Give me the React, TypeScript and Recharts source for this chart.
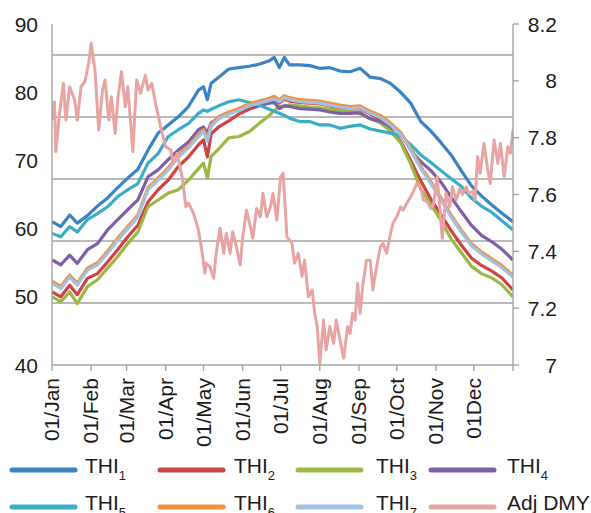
import React from 'react';
import { ComposedChart, Line, XAxis, YAxis, CartesianGrid } from 'recharts';

// ---- Data ----
const monthTicks = [0, 31, 59, 90, 120, 151, 181, 212, 243, 273, 304, 334, 365];
const monthLabels = ['01/Jan', '01/Feb', '01/Mar', '01/Apr', '01/May', '01/Jun', '01/Jul', '01/Aug', '01/Sep', '01/Oct', '01/Nov', '01Dec', ''];

const leftTicks = [40, 50, 60, 70, 80, 90];
const rightTicks = [7, 7.2, 7.4, 7.6, 7.8, 8, 8.2];
// horizontal gridlines: Excel draws 5 evenly spaced lines (in units of 1/5.5 of the plot height)
const gridTicks = [1, 2, 3, 4, 5];
const gridSpan = 5.5;

const thiDays = [0, 7, 14, 20, 28, 36, 44, 52, 60, 68, 76, 84, 92, 100, 108, 116, 120, 123, 126, 132, 140, 148, 156, 164, 172, 176, 180, 184, 188, 196, 204, 212, 220, 228, 236, 244, 252, 260, 268, 276, 284, 292, 300, 308, 316, 324, 332, 340, 348, 356, 365];

const thi1 = [61.0, 60.3, 62.0, 60.8, 61.9, 63.3, 64.5, 66.0, 67.4, 68.7, 71.5, 74.0, 75.2, 76.4, 77.9, 80.3, 80.8, 78.9, 81.3, 82.2, 83.4, 83.6, 83.8, 84.1, 84.6, 85.1, 83.6, 85.1, 84.0, 84.0, 83.9, 83.5, 83.6, 83.1, 83.0, 83.5, 82.2, 82.0, 81.3, 80.0, 78.4, 75.7, 74.3, 72.6, 70.8, 68.5, 66.3, 64.8, 63.5, 62.3, 61.0];
const thi2 = [50.7, 50.0, 51.7, 50.3, 52.7, 53.4, 55.1, 56.9, 58.8, 60.5, 63.9, 65.7, 67.1, 69.1, 70.5, 72.3, 73.0, 70.5, 73.9, 74.9, 75.8, 76.8, 77.5, 78.0, 78.5, 78.8, 78.4, 79.0, 78.7, 78.5, 78.4, 78.3, 78.0, 77.7, 77.5, 77.6, 76.8, 76.0, 74.5, 72.8, 70.0, 67.0, 64.3, 62.0, 59.7, 57.6, 55.7, 54.6, 53.8, 52.8, 51.0];
const thi3 = [50.0, 49.3, 50.7, 49.0, 51.5, 52.5, 54.2, 55.9, 57.8, 59.5, 63.2, 64.2, 65.2, 65.7, 67.1, 68.8, 69.6, 67.4, 70.6, 71.7, 73.3, 73.5, 74.2, 75.4, 76.6, 77.3, 77.9, 78.0, 78.1, 78.0, 77.8, 77.7, 77.5, 77.3, 77.2, 76.8, 76.1, 75.5, 74.3, 72.6, 69.5, 65.8, 63.5, 61.2, 58.5, 56.5, 54.5, 53.4, 52.8, 51.8, 50.0];
const thi4 = [55.4, 54.7, 56.1, 54.9, 56.9, 57.8, 59.8, 61.3, 62.8, 64.2, 67.6, 68.6, 70.1, 71.5, 72.7, 74.5, 74.9, 74.0, 75.5, 76.3, 77.0, 77.4, 77.9, 78.1, 78.4, 78.5, 77.6, 78.0, 77.9, 77.6, 77.5, 77.4, 77.1, 76.9, 76.9, 77.0, 76.1, 75.7, 75.0, 74.0, 71.5, 69.8, 68.5, 66.8, 64.6, 62.5, 60.5, 59.0, 58.1, 57.0, 55.4];
const thi5 = [59.3, 58.8, 60.3, 59.5, 61.3, 62.2, 63.2, 64.7, 65.7, 66.6, 69.6, 71.0, 73.5, 74.5, 75.4, 76.9, 77.4, 77.2, 77.5, 78.0, 78.6, 78.9, 78.5, 78.1, 77.5, 77.2, 76.9, 76.6, 76.2, 75.7, 75.7, 75.2, 75.2, 74.7, 75.0, 75.2, 74.6, 74.3, 74.0, 73.6, 72.3, 70.8, 69.7, 68.5, 67.3, 66.2, 64.5, 63.3, 62.4, 61.2, 59.8];
const thi6 = [52.3, 51.5, 53.2, 52.0, 54.2, 55.0, 56.7, 58.6, 60.3, 62.0, 66.0, 67.4, 68.9, 70.8, 72.1, 73.8, 74.5, 73.2, 75.3, 76.4, 77.1, 77.6, 78.3, 78.7, 79.1, 79.4, 78.9, 79.5, 79.2, 78.9, 78.8, 78.7, 78.4, 78.1, 77.9, 78.0, 77.2, 76.6, 75.5, 74.1, 71.8, 69.1, 66.9, 64.5, 62.0, 59.8, 57.8, 56.6, 55.6, 54.6, 53.2];
const thi7 = [52.0, 51.2, 52.9, 51.7, 53.9, 54.7, 56.4, 58.3, 60.0, 61.7, 65.7, 67.1, 68.6, 70.5, 71.8, 73.5, 74.2, 72.8, 75.0, 76.1, 76.8, 77.3, 78.0, 78.4, 78.8, 79.0, 78.6, 79.2, 78.9, 78.6, 78.5, 78.4, 78.1, 77.8, 77.6, 77.7, 76.9, 76.3, 75.2, 73.8, 71.5, 68.8, 66.6, 64.2, 61.7, 59.5, 57.5, 56.3, 55.3, 54.3, 52.9];

const dmyDays = [0, 2, 3, 6, 9, 11, 14, 18, 20, 23, 26, 29, 31, 34, 37, 40, 42, 45, 47, 50, 52, 55, 58, 60, 64, 67, 70, 74, 76, 79, 82, 86, 90, 94, 96, 99, 103, 106, 108, 112, 116, 119, 121, 122, 125, 128, 130, 133, 136, 138, 141, 143, 146, 149, 151, 154, 157, 159, 162, 165, 167, 170, 173, 175, 178, 181, 183, 186, 190, 192, 195, 198, 200, 203, 206, 208, 210, 212, 215, 217, 220, 223, 225, 228, 231, 234, 236, 238, 240, 242, 244, 246, 249, 252, 254, 257, 260, 262, 265, 268, 270, 273, 276, 278, 281, 284, 286, 289, 292, 294, 297, 300, 302, 305, 307, 309, 312, 315, 317, 320, 323, 325, 328, 330, 333, 335, 337, 339, 342, 345, 347, 350, 353, 355, 358, 361, 363, 365];
const dmyValues = [7.862, 7.926, 7.751, 7.886, 7.991, 7.862, 7.979, 7.932, 7.862, 7.979, 7.997, 8.062, 8.132, 8.038, 7.827, 7.968, 8.003, 7.862, 7.944, 7.815, 7.932, 8.032, 7.909, 7.979, 7.751, 8.003, 7.956, 8.020, 7.968, 7.991, 7.921, 7.838, 7.768, 7.757, 7.710, 7.745, 7.663, 7.557, 7.570, 7.534, 7.475, 7.393, 7.323, 7.358, 7.346, 7.305, 7.393, 7.481, 7.393, 7.463, 7.393, 7.469, 7.416, 7.352, 7.451, 7.545, 7.487, 7.446, 7.551, 7.522, 7.604, 7.522, 7.557, 7.604, 7.510, 7.663, 7.675, 7.451, 7.428, 7.358, 7.393, 7.311, 7.369, 7.240, 7.264, 7.182, 7.135, 7.006, 7.158, 7.053, 7.135, 7.076, 7.158, 7.088, 7.024, 7.135, 7.111, 7.182, 7.158, 7.287, 7.182, 7.276, 7.369, 7.369, 7.264, 7.346, 7.416, 7.428, 7.393, 7.463, 7.499, 7.522, 7.557, 7.545, 7.569, 7.592, 7.610, 7.639, 7.627, 7.581, 7.575, 7.551, 7.563, 7.663, 7.557, 7.446, 7.604, 7.557, 7.627, 7.581, 7.620, 7.600, 7.627, 7.604, 7.610, 7.581, 7.733, 7.675, 7.780, 7.686, 7.639, 7.792, 7.710, 7.780, 7.663, 7.768, 7.745, 7.827];

const seriesKeys = ['thi1', 'thi2', 'thi3', 'thi4', 'thi5', 'thi6', 'thi7'];
const seriesValues = [thi1, thi2, thi3, thi4, thi5, thi6, thi7];
const seriesColors = ['#3b84c3', '#cf4343', '#9bb843', '#7e5fa6', '#39adc8', '#f2923a', '#a2c1e2'];
const dmyColor = '#e8a3a3';

const legendItems = [
  { label: 'THI', sub: '1', color: seriesColors[0] },
  { label: 'THI', sub: '2', color: seriesColors[1] },
  { label: 'THI', sub: '3', color: seriesColors[2] },
  { label: 'THI', sub: '4', color: seriesColors[3] },
  { label: 'THI', sub: '5', color: seriesColors[4] },
  { label: 'THI', sub: '6', color: seriesColors[5] },
  { label: 'THI', sub: '7', color: seriesColors[6] },
  { label: 'Adj DMY', sub: '', color: dmyColor },
];

// ---- Build table ----
const allDays = Array.from(new Set([...thiDays, ...dmyDays])).sort((a, b) => a - b);
const chartData = allDays.map((day) => {
  const row: any = { day };
  const ti = thiDays.indexOf(day);
  if (ti >= 0) seriesKeys.forEach((k, s) => { row[k] = seriesValues[s][ti]; });
  const di = dmyDays.indexOf(day);
  if (di >= 0) row.dmy = dmyValues[di];
  return row;
});

const FONT = '"Liberation Sans", Arial, Helvetica, sans-serif';
const TEXT = '#1c1c1c';
const AXIS = '#a3a3a3';

const XTick = (props: any) => {
  const { x, y, payload } = props;
  const label = monthLabels[monthTicks.indexOf(payload.value)] ?? '';
  const ty = y + 5;
  return (
    <text x={x} y={ty} dy="0.35em" transform={`rotate(-90, ${x}, ${ty})`} textAnchor="end" fontSize={21} fontFamily={FONT} fill={TEXT}>
      {label}
    </text>
  );
};

const LeftTick = (props: any) => {
  const { x, y, payload } = props;
  return (
    <text x={x} y={y} dy="0.36em" textAnchor="end" fontSize={21} fontFamily={FONT} fill={TEXT}>
      {String(payload.value)}
    </text>
  );
};

const RightTick = (props: any) => {
  const { x, y, payload } = props;
  return (
    <text x={x + 36} y={y} dy="0.36em" textAnchor="end" fontSize={21} fontFamily={FONT} fill={TEXT}>
      {String(payload.value)}
    </text>
  );
};

const gridGenerator = ({ offset }: any) =>
  gridTicks.map((t) => offset.top + offset.height - (t / gridSpan) * offset.height);

const legendCols = [12, 160, 298, 431];
const legendTextX = [85, 234, 376, 507];
const legendRowsY = [470, 507];

export default function App() {
  return (
    <div style={{ position: 'absolute', left: 0, top: 0, width: 591, height: 513, background: '#fff', overflow: 'hidden' }}>
      <ComposedChart width={591} height={513} data={chartData} margin={{ top: 24, right: 0, bottom: 58, left: 0 }}>
        <CartesianGrid vertical={false} stroke={AXIS} strokeWidth={1.4} horizontalCoordinatesGenerator={gridGenerator} syncWithTicks={false} />
        <XAxis
          dataKey="day"
          type="number"
          domain={[0, 365]}
          ticks={monthTicks}
          interval={0}
          height={90}
          tickSize={6}
          axisLine={{ stroke: AXIS, strokeWidth: 1.4 }}
          tickLine={{ stroke: AXIS, strokeWidth: 1.4 }}
          tick={<XTick />}
          allowDataOverflow
        />
        <YAxis
          yAxisId="left"
          domain={[40, 90]}
          ticks={leftTicks}
          width={52}
          tickSize={6}
          tickLine={false}
          tickMargin={8}
          axisLine={{ stroke: AXIS, strokeWidth: 1.4 }}
          tick={<LeftTick />}
          allowDataOverflow
        />
        <YAxis
          yAxisId="right"
          orientation="right"
          domain={[7, 8.2]}
          ticks={rightTicks}
          width={78}
          tickSize={6}
          axisLine={{ stroke: AXIS, strokeWidth: 1.4 }}
          tickLine={{ stroke: AXIS, strokeWidth: 1.4 }}
          tick={<RightTick />}
          allowDataOverflow
        />
        {seriesKeys.map((k, s) => (
          <Line
            key={k}
            yAxisId="left"
            dataKey={k}
            type="linear"
            stroke={seriesColors[s]}
            strokeWidth={3.2}
            dot={false}
            activeDot={false}
            connectNulls
            isAnimationActive={false}
            strokeLinejoin="round"
          />
        ))}
        <Line
          yAxisId="right"
          dataKey="dmy"
          type="linear"
          stroke={dmyColor}
          strokeWidth={3}
          dot={false}
          activeDot={false}
          connectNulls
          isAnimationActive={false}
          strokeLinejoin="round"
        />
      </ComposedChart>
      <svg width={591} height={513} style={{ position: 'absolute', left: 0, top: 0, pointerEvents: 'none' }}>
        {legendItems.map((it, i) => {
          const col = i % 4;
          const row = Math.floor(i / 4);
          const ly = legendRowsY[row];
          return (
            <g key={i}>
              <line x1={legendCols[col]} x2={legendCols[col] + 63} y1={ly} y2={ly} stroke={it.color} strokeWidth={5} strokeLinecap="round" />
              <text x={legendTextX[col]} y={ly + 3} fontSize={21} fontFamily={FONT} fill={TEXT}>
                {it.label}
                {it.sub ? <tspan fontSize={13} dy={7}>{it.sub}</tspan> : null}
              </text>
            </g>
          );
        })}
      </svg>
    </div>
  );
}
